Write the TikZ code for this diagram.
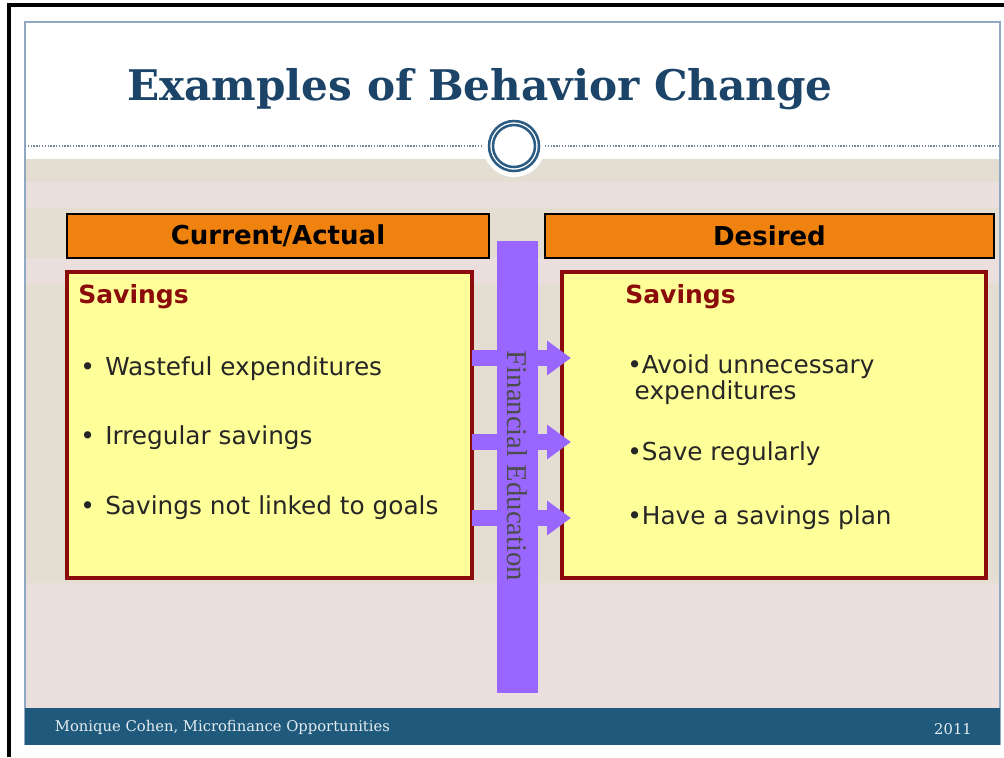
\documentclass[tikz,border=0pt]{standalone}
\usepackage{fontspec}
\usepackage{tikz}
\usetikzlibrary{positioning, arrows.meta}
\usepackage{xcolor}
\setmainfont{DejaVu Sans}
\newfontfamily\headfont{DejaVu Serif}
\newfontfamily\barfont{Liberation Serif}

\definecolor{titleblue}{HTML}{1B4468}
\definecolor{footblue}{HTML}{1F5A7D}
\definecolor{ringblue}{HTML}{2B5C84}
\definecolor{edgeblue}{HTML}{8EA9C1}
\definecolor{bandA}{HTML}{E3DDD2}
\definecolor{bandB}{HTML}{EBDFDE}
\definecolor{hdrorange}{HTML}{F0820F}
\definecolor{boxyellow}{HTML}{FFFF99}
\definecolor{boxred}{HTML}{8B0A0A}
\definecolor{barpurple}{HTML}{9966FF}

\begin{document}
\begin{tikzpicture}[x=0.025cm, y=-0.025cm,
    header/.style={draw=black, line width=1.5pt, fill=hdrorange, font=\bfseries\fontsize{18.5}{20}\selectfont},
    panel/.style={draw=boxred, line width=2.6pt, fill=boxyellow},
    item/.style={anchor=west, font=\fontsize{17.6}{18.5}\selectfont, text=black!85, inner sep=0pt},
    topic/.style={anchor=west, font=\bfseries\fontsize{17.8}{20}\selectfont, text=boxred, inner sep=0pt},
    flow/.style={barpurple, line width=10.7pt, -{Triangle[width=23.5pt, length=17pt]}}]
    \useasboundingbox (0,0) rectangle (1004,757);
    \fill[white] (0,0) rectangle (1004,757);

    % slide background bands
    \fill[white] (25,22) rectangle (1000,159);
    \foreach \ya/\yb/\c in {159/182/bandA, 182/208/bandB, 208/258/bandA, 258/284/bandB, 284/583/bandA, 583/708/bandB} {
        \fill[\c] (25,\ya) rectangle (1000,\yb);
    }
    \draw[edgeblue, line width=0.8pt] (25,745) -- (25,22) -- (1000,22) -- (1000,745);

    % outer frame
    \draw[black, line width=2.2pt] (9,757) -- (9,5) -- (1004,5);

    % title and rule
    \node[text=titleblue, font=\headfont\bfseries\fontsize{30}{36}\selectfont] (title) at (480,89) {Examples of Behavior Change};
    \draw[edgeblue!80!black, line width=0.8pt, dash pattern=on 1pt off 1pt] (25,146) -- (483,146);
    \draw[edgeblue!80!black, line width=0.8pt, dash pattern=on 1pt off 1pt] (545,146) -- (1000,146);
    \fill[white] (514,146) circle (31);
    \draw[ringblue, line width=1.8pt] (514,146) circle (25);
    \draw[ringblue, line width=1.8pt] (514,146) circle (21);

    % column headers
    \node[header, minimum width=422*0.025cm, minimum height=44*0.025cm] (cur) at (278,236) {Current/Actual};
    \node[header, minimum width=449*0.025cm, minimum height=44*0.025cm] (des) at (769.5,236) {Desired};

    % panels
    \node[panel, minimum width=405*0.025cm, minimum height=306*0.025cm] (left) at (269.5,425) {};
    \node[panel, minimum width=424*0.025cm, minimum height=306*0.025cm] (right) at (774,425) {};

    \node[topic] (ls) at (78,297) {Savings};
    \node[item] (l1) at (80,369) {•\hspace{0.42em}Wasteful expenditures};
    \node[item] (l2) at (80,438) {•\hspace{0.42em}Irregular savings};
    \node[item] (l3) at (80,508) {•\hspace{0.42em}Savings not linked to goals};

    \node[topic] (rs) at (625,297) {Savings};
    \node[item, align=left] (r1) at (627,380) {•Avoid unnecessary\\\hspace*{0.3em}expenditures};
    \node[item] (r2) at (627,454) {•Save regularly};
    \node[item] (r3) at (627,518) {•Have a savings plan};

    % education bar with arrows
    \node[fill=barpurple, minimum width=41*0.025cm, minimum height=452*0.025cm, inner sep=0pt] (bar) at (517.5,467) {};
    \foreach \y [count=\i] in {358,442,518} {
        \coordinate (a\i) at (472,\y);
        \coordinate (b\i) at (571,\y);
        \draw[flow] (a\i) -- (b\i);
    }
    \node[rotate=-90, text=black!70, font=\barfont\fontsize{20.4}{22}\selectfont] (fe) at (517,466) {Financial Education};

    % footer
    \fill[footblue] (25,708) rectangle (1000,745);
    \node[anchor=west, text=white!88!footblue, font=\headfont\fontsize{10.5}{12}\selectfont] (who) at (50,727) {Monique Cohen, Microfinance Opportunities};
    \node[text=white!88!footblue, font=\headfont\fontsize{10.5}{12}\selectfont] (yr) at (953,729) {2011};
\end{tikzpicture}
\end{document}
